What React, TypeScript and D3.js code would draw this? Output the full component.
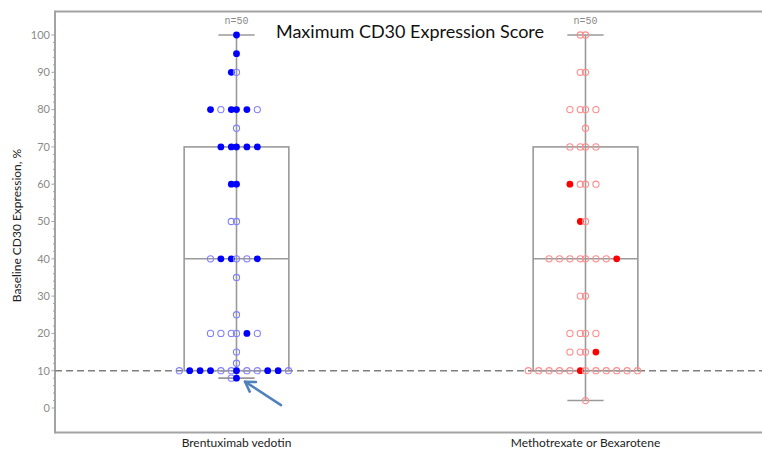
import React from "react";
import * as d3 from "d3";

// Treatment arms and the boxplot summaries (min, Q1, median, Q3, max)
const groups = ["Brentuximab vedotin", "Methotrexate or Bexarotene"];
const nLabels = ["n=50", "n=50"];
const boxStats = [
  [8, 10, 40, 70, 100],
  [2, 10, 40, 70, 100],
];
const yTicks = [0, 10, 20, 30, 40, 50, 60, 70, 80, 90, 100];
const refLine = 10;

// Individual patients: [CD30 %, horizontal slot, filled]
const bvPoints: [number, number, number][] = [
  [100, 0, 1],
  [95, 0, 1],
  [90, -0.5, 1], [90, 0, 0],
  [80, -2.5, 1], [80, -1.5, 0], [80, -0.5, 1], [80, 0, 1], [80, 1, 1], [80, 2, 0],
  [75, 0, 0],
  [70, -1.5, 1], [70, -0.5, 1], [70, 0, 1], [70, 1, 1], [70, 2, 1],
  [60, -0.5, 1], [60, 0, 1],
  [50, -0.5, 0], [50, 0, 0],
  [40, -2.5, 0], [40, -1.5, 1], [40, -0.5, 1], [40, 0, 0], [40, 1, 0], [40, 2, 1],
  [35, 0, 0],
  [25, 0, 0],
  [20, -2.5, 0], [20, -1.5, 0], [20, -0.5, 0], [20, 0, 0], [20, 1, 1], [20, 2, 0],
  [15, 0, 0],
  [12, 0, 0],
  [10, -5.5, 0], [10, -4.5, 1], [10, -3.5, 1], [10, -2.5, 1], [10, -1.5, 0], [10, -0.5, 0],
  [10, 0, 1], [10, 1, 0], [10, 2, 0], [10, 3, 1], [10, 4, 1], [10, 5, 0],
  [8, -0.5, 0], [8, 0, 1],
];

const mbPoints: [number, number, number][] = [
  [100, -0.5, 0], [100, 0, 0],
  [90, -0.5, 0], [90, 0, 0],
  [80, -1.5, 0], [80, -0.5, 0], [80, 0, 0], [80, 1, 0],
  [75, 0, 0],
  [70, -1.5, 0], [70, -0.5, 0], [70, 0, 0], [70, 1, 0],
  [60, -1.5, 1], [60, -0.5, 0], [60, 0, 0], [60, 1, 0],
  [50, -0.5, 1], [50, 0, 0],
  [40, -3.5, 0], [40, -2.5, 0], [40, -1.5, 0], [40, -0.5, 0], [40, 0, 0], [40, 1, 0], [40, 2, 0], [40, 3, 1],
  [30, -0.5, 0], [30, 0, 0],
  [20, -1.5, 0], [20, -0.5, 0], [20, 0, 0], [20, 1, 0],
  [15, -1.5, 0], [15, -0.5, 0], [15, 0, 0], [15, 1, 1],
  [10, -5.5, 0], [10, -4.5, 0], [10, -3.5, 0], [10, -2.5, 0], [10, -1.5, 0], [10, -0.5, 1],
  [10, 0, 0], [10, 1, 0], [10, 2, 0], [10, 3, 0], [10, 4, 0], [10, 5, 0],
  [2, 0, 0],
];

const pointSets = [bvPoints, mbPoints];
const filledColors = ["#0000ff", "#ff0000"];
const openColors = ["#8080ff", "#ff8c8c"];

const W = 762;
const H = 451;
const frame = { left: 55, top: 11.5, bottom: 432.5 };

export default function App() {
  const x = d3.scalePoint<string>().domain(groups).range([62, 760]).padding(0.5);
  const y = d3.scaleLinear().domain([0, 100]).range([408, 35]);
  const step = x.step();
  const slot = d3.scaleLinear().domain([-1, 1]).range([-step * 0.0298, step * 0.0298]);
  const boxHalf = step * 0.15;
  const capHalf = step * 0.052;
  const minorTicks = d3.range(0, 101, 2).filter((v) => v % 10 !== 0);
  const grey = "#a3a3a3";
  const textFont = "Lato, 'Open Sans', sans-serif";

  // arrow pointing at the lowest Brentuximab value
  const ax = x(groups[0])!;
  const ay = y(boxStats[0][0]);
  const tip: [number, number] = [ax + 8.5, ay + 3.5];
  const tail: [number, number] = [ax + 44.5, ay + 27];
  const ang = Math.atan2(tail[1] - tip[1], tail[0] - tip[0]);
  const arm = 11;
  const spread = 0.55;
  const arm1: [number, number] = [tip[0] + arm * Math.cos(ang - spread), tip[1] + arm * Math.sin(ang - spread)];
  const arm2: [number, number] = [tip[0] + arm * Math.cos(ang + spread), tip[1] + arm * Math.sin(ang + spread)];

  return (
    <svg
      width={W}
      height={H}
      style={{ position: "absolute", left: 0, top: 0, background: "#fff" }}
    >
      {/* frame */}
      <line x1={frame.left} x2={W} y1={frame.top} y2={frame.top} stroke={grey} strokeWidth={2} />
      <line x1={frame.left} x2={W} y1={frame.bottom} y2={frame.bottom} stroke={grey} strokeWidth={2} />
      <line x1={frame.left} x2={frame.left} y1={frame.top - 1} y2={frame.bottom + 1} stroke={grey} strokeWidth={2} />

      {/* y axis ticks */}
      {yTicks.map((t) => (
        <g key={t}>
          <line x1={frame.left - 3.5} x2={frame.left} y1={y(t)} y2={y(t)} stroke={grey} strokeWidth={1} />
          <text
            x={frame.left - 5}
            y={y(t)}
            dy="0.35em"
            textAnchor="end"
            fontSize={11}
            fontFamily={textFont}
            fill="#8a8a8a"
          >
            {t}
          </text>
        </g>
      ))}
      {minorTicks.map((t) => (
        <line key={t} x1={frame.left - 2} x2={frame.left} y1={y(t)} y2={y(t)} stroke={grey} strokeWidth={1} />
      ))}

      <text
        transform={`translate(21,${(y(0) + y(100)) / 2 + 4}) rotate(-90)`}
        textAnchor="middle"
        fontSize={12}
        fontFamily={textFont}
        fill="#222"
      >
        Baseline CD30 Expression, %
      </text>

      {/* reference line */}
      <line
        x1={frame.left}
        x2={W}
        y1={y(refLine)}
        y2={y(refLine)}
        stroke="#7f7f7f"
        strokeWidth={1.5}
        strokeDasharray="7 4"
      />

      {/* boxes */}
      {groups.map((g, i) => {
        const cx = x(g)!;
        const [mn, q1, md, q3, mx] = boxStats[i];
        return (
          <g key={g} stroke="#9a9a9a" strokeWidth={1.6} fill="none">
            <line x1={cx} x2={cx} y1={y(mn)} y2={y(mx)} />
            <rect x={cx - boxHalf} y={y(q3)} width={boxHalf * 2} height={y(q1) - y(q3)} />
            <line x1={cx - boxHalf} x2={cx + boxHalf} y1={y(md)} y2={y(md)} />
            <line x1={cx - capHalf} x2={cx + capHalf} y1={y(mx)} y2={y(mx)} />
            <line x1={cx - capHalf} x2={cx + capHalf} y1={y(mn)} y2={y(mn)} />
          </g>
        );
      })}

      {/* patient points */}
      {groups.map((g, i) => {
        const cx = x(g)!;
        return (
          <g key={g}>
            {pointSets[i].map(([v, s, f], j) =>
              f ? (
                <circle key={j} cx={cx + slot(s)} cy={y(v)} r={3.4} fill={filledColors[i]} />
              ) : (
                <circle
                  key={j}
                  cx={cx + slot(s)}
                  cy={y(v)}
                  r={3.1}
                  fill="none"
                  stroke={openColors[i]}
                  strokeWidth={1.1}
                />
              )
            )}
          </g>
        );
      })}

      {/* n labels */}
      {groups.map((g, i) => (
        <text
          key={g}
          x={x(g)!}
          y={24}
          textAnchor="middle"
          fontSize={10}
          fontFamily="'Liberation Mono', 'DejaVu Sans Mono', monospace"
          fill="#8a8a8a"
        >
          {nLabels[i]}
        </text>
      ))}

      {/* title */}
      <text x={410} y={38} textAnchor="middle" fontSize={18} fontFamily={textFont} fill="#111">
        Maximum CD30 Expression Score
      </text>

      {/* category labels */}
      {groups.map((g) => (
        <text key={g} x={x(g)!} y={447} textAnchor="middle" fontSize={12} fontFamily={textFont} fill="#222">
          {g}
        </text>
      ))}

      {/* annotation arrow */}
      <g stroke="#4f81bd" strokeWidth={2.5} fill="none" strokeLinecap="round" strokeLinejoin="round">
        <line x1={tail[0]} y1={tail[1]} x2={tip[0]} y2={tip[1]} />
        <polyline points={`${arm1[0]},${arm1[1]} ${tip[0]},${tip[1]} ${arm2[0]},${arm2[1]}`} />
      </g>
    </svg>
  );
}
